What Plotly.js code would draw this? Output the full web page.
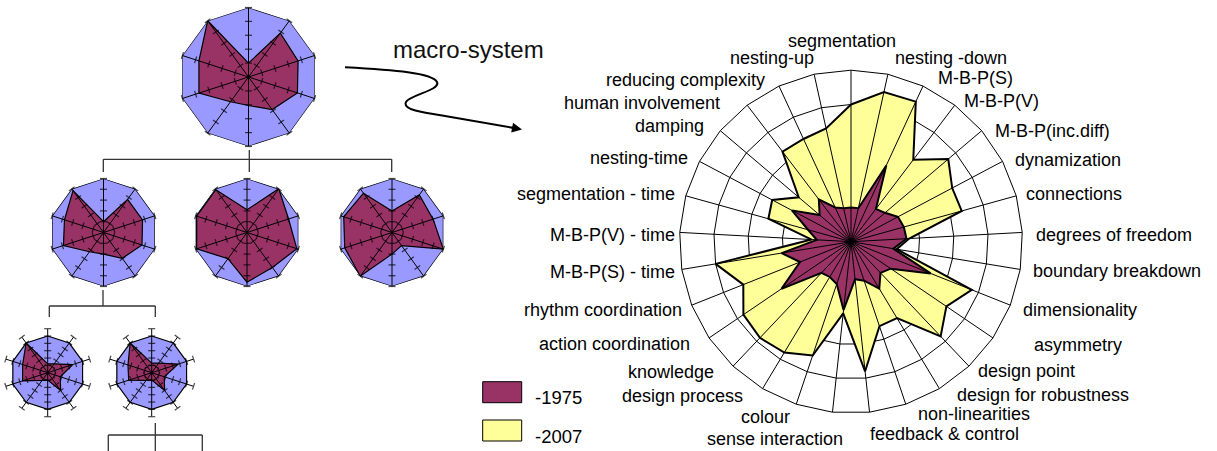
<!DOCTYPE html>
<html><head><meta charset="utf-8">
<script src="https://cdn.plot.ly/plotly-3.0.1.min.js"></script>
<style>html,body{margin:0;padding:0;background:#fff}#chart{width:1217px;height:451px}</style>
</head><body><div id="chart"></div>
<script>
// ---- main radar data ----
const categories = ['segmentation','nesting -down','M-B-P(S)','M-B-P(V)','M-B-P(inc.diff)','dynamization','connections','degrees of freedom','boundary breakdown','dimensionality','asymmetry','design point','design for robustness','non-linearities','feedback & control','sense interaction','colour','design process','knowledge','action coordination','rhythm coordination','M-B-P(S) - time','M-B-P(V) - time','segmentation - time','nesting-time','damping','human involvement','reducing complexity','nesting-up'];
const series1975 = [1.0,1.0,2.45,1.2,1.3,1.55,1.6,1.62,1.25,2.5,1.4,1.25,1.6,1.2,1.1,2.0,1.3,1.2,1.25,2.45,1.6,2.05,1.0,1.3,1.95,1.2,1.55,1.1,1.0];
const series2007 = [4.0,4.47,4.5,3.0,3.72,3.34,3.35,1.7,1.35,3.79,3.36,3.8,2.6,2.6,3.8,2.1,3.5,3.77,3.86,3.79,3.38,4.0,1.15,2.5,2.6,2.0,3.3,3.3,3.38];
const seriesNames = ['-1975','-2007'];
const radialMax = 5;

// ---- small radar data (tree) ----
const miniCategories = ['k1','k2','k3','k4','k5','k6','k7','k8','k9','k10'];
const miniMax = 5;
const miniTop  = [1.0,3.9,3.75,3.7,2.9,2.05,2.2,3.75,3.75,5.0];
const miniR2a  = [1.0,3.8,3.8,3.75,2.95,2.0,2.2,3.9,3.8,4.8];
const miniR2b  = [2.1,5.0,4.05,4.85,4.0,4.6,3.0,4.9,4.9,4.9];
const miniR2c  = [2.0,4.3,4.0,5.0,1.5,2.0,5.0,4.6,4.7,4.5];
const miniR3a  = [1.2,1.5,3.6,1.8,3.0,1.0,1.3,3.6,3.6,5.0];
const miniR3b  = [1.3,1.6,3.8,1.8,3.0,1.0,1.3,3.3,3.4,5.0];
const titleText = 'macro-system';

// ---- layout: category label placement (pixels) ----
const labelX = [842,893,936,962,993,1013,1024,1034,1031,1021,1032,976,955,916,868,845,792,745,716,692,684,677,677,677,690,706,722,767,816];
const labelY = [41,58,78,101,131,160,194,235,271,310,345,371,395,414,434,439,417,396,372,344,310,272,235,194,158,126,103,80,58];

const W = 1217, H = 451;
const FONT = 'Liberation Sans, Arial, Helvetica, sans-serif';
const MAROON = '#993366', YELLOW = '#FFFF99', BLUE = '#9999FF';
const px = x => x / W, py = y => 1 - y / H;
const dom = (cx, cy, R) => ({x: [(cx - R) / W, (cx + R) / W], y: [(H - cy - R) / H, (H - cy + R) / H]});
const closed = a => a.concat([a[0]]);

const traces = [];
const layout = {
  width: W, height: H, margin: {l: 0, r: 0, t: 0, b: 0},
  paper_bgcolor: '#fff', showlegend: false, hovermode: false,
  font: {family: FONT, color: '#000'},
  shapes: [], annotations: []
};

// main radar
traces.push({type: 'scatterpolar', subplot: 'polar', mode: 'lines', r: closed(series2007), theta: closed(categories),
  fill: 'toself', fillcolor: YELLOW, line: {color: '#000', width: 2}, name: seriesNames[1]});
traces.push({type: 'scatterpolar', subplot: 'polar', mode: 'lines', r: closed(series1975), theta: closed(categories),
  fill: 'toself', fillcolor: MAROON, line: {color: '#000', width: 2}, name: seriesNames[0]});
(function () {
  const r = [], t = [];
  categories.forEach(c => { r.push(0, radialMax, null); t.push(c, c, c); });
  traces.push({type: 'scatterpolar', subplot: 'polar', mode: 'lines', r: r, theta: t, line: {color: '#000', width: 1}});
})();
layout.polar = {
  domain: dom(851, 241.7, 171.5), bgcolor: '#fff', gridshape: 'linear',
  angularaxis: {type: 'category', categoryarray: categories, direction: 'clockwise', rotation: 90,
    showgrid: false, showline: true, linecolor: '#000', linewidth: 1, ticks: '', showticklabels: false},
  radialaxis: {range: [0, radialMax], dtick: 1, showticklabels: false, ticks: '', showline: false,
    showgrid: true, gridcolor: '#000', gridwidth: 1}
};
categories.forEach((c, i) => {
  const anchor = i === 0 ? 'center' : (i < 15 ? 'left' : 'right');
  layout.annotations.push({xref: 'paper', yref: 'paper', x: px(labelX[i]), y: py(labelY[i]),
    xanchor: anchor, yanchor: 'middle', text: c, showarrow: false,
    font: {size: 18, family: FONT, color: '#000'}});
});

// mini radars
const minis = [
  {vals: miniTop, cx: 248.5, cy: 77, R: 69.5, ext: 5},
  {vals: miniR2a, cx: 103.5, cy: 232.5, R: 54, ext: 5},
  {vals: miniR2b, cx: 247, cy: 232.5, R: 54, ext: 5},
  {vals: miniR2c, cx: 392, cy: 232.5, R: 54, ext: 5},
  {vals: miniR3a, cx: 47.7, cy: 372.7, R: 44, ext: 6},
  {vals: miniR3b, cx: 151.7, cy: 372.7, R: 44, ext: 6}
];
minis.forEach((m, k) => {
  const sp = 'polar' + (k + 2);
  traces.push({type: 'scatterpolar', subplot: sp, mode: 'lines', r: closed(miniCategories.map(() => miniMax)),
    theta: closed(miniCategories), fill: 'toself', fillcolor: BLUE, line: {color: '#000', width: 1.2}});
  traces.push({type: 'scatterpolar', subplot: sp, mode: 'lines', r: closed(m.vals), theta: closed(miniCategories),
    fill: 'toself', fillcolor: MAROON, line: {color: '#000', width: 1.2}});
  const r = [], t = [], ang = [], sz = [];
  miniCategories.forEach((c, i) => {
    for (let v = 0; v <= m.ext; v++) { r.push(v); t.push(c); ang.push(i * 360 / miniCategories.length); sz.push(v === 0 ? 0 : 5); }
    r.push(null); t.push(c); ang.push(0); sz.push(0);
  });
  traces.push({type: 'scatterpolar', subplot: sp, mode: 'lines+markers', r: r, theta: t,
    line: {color: '#000', width: 1},
    marker: {symbol: 'line-ew', size: sz, angle: ang, color: '#000', line: {color: '#000', width: 1.2}}});
  layout[sp] = {
    domain: dom(m.cx, m.cy, m.R), bgcolor: 'rgba(0,0,0,0)', gridshape: 'linear',
    angularaxis: {type: 'category', categoryarray: miniCategories, direction: 'clockwise', rotation: 90,
      showgrid: false, showline: false, showticklabels: false, ticks: ''},
    radialaxis: {range: [0, m.ext], visible: false}
  };
});

// tree connector lines
const lineSegs = [
  [249.3, 150, 249.3, 172], [103.3, 159.3, 391.7, 159.3], [103.3, 159.3, 103.3, 172], [391.7, 159.3, 391.7, 172],
  [103, 290, 103, 306], [49.3, 306, 155.3, 306], [49.3, 306, 49.3, 317], [155.3, 306, 155.3, 317],
  [155.3, 423, 155.3, 451], [108.3, 435, 202.3, 435], [108.3, 435, 108.3, 451], [202.3, 435, 202.3, 451]
];
lineSegs.forEach(s => layout.shapes.push({type: 'line', xref: 'paper', yref: 'paper',
  x0: px(s[0]), y0: py(s[1]), x1: px(s[2]), y1: py(s[3]), line: {color: '#333', width: 1.3}}));

// squiggly arrow
const P = (x, y) => px(x).toFixed(5) + ',' + py(y).toFixed(5);
layout.shapes.push({type: 'path', xref: 'paper', yref: 'paper', line: {color: '#000', width: 2},
  path: 'M' + P(345, 67.3) + ' C' + P(395, 70) + ' ' + P(432, 73) + ' ' + P(437, 82) +
        ' C' + P(441, 90) + ' ' + P(410, 95) + ' ' + P(406, 102) +
        ' C' + P(402, 110) + ' ' + P(425, 113) + ' ' + P(445, 116) + ' L' + P(514, 128)});
layout.annotations.push({xref: 'paper', yref: 'paper', x: px(522), y: py(129.4), ax: -12, ay: -2.2, text: '',
  showarrow: true, arrowhead: 2, arrowsize: 1, arrowwidth: 2, arrowcolor: '#000'});
layout.annotations.push({xref: 'paper', yref: 'paper', x: px(468), y: py(50), xanchor: 'center', yanchor: 'middle',
  text: titleText, showarrow: false, font: {size: 24, family: FONT, color: '#111'}});

// legend
const legendColors = [MAROON, YELLOW];
const legendY = [381.7, 420];
seriesNames.forEach((n, i) => {
  layout.shapes.push({type: 'rect', xref: 'paper', yref: 'paper', x0: px(482.7), x1: px(521.7),
    y0: py(legendY[i]), y1: py(legendY[i] + 21), fillcolor: legendColors[i], line: {color: '#000', width: 1}});
  layout.annotations.push({xref: 'paper', yref: 'paper', x: px(533), y: py(legendY[i] + 16), xanchor: 'left', yanchor: 'middle',
    text: n, showarrow: false, font: {size: 18.5, family: FONT, color: '#000'}});
});

Plotly.newPlot('chart', traces, layout, {staticPlot: true, displayModeBar: false});
</script></body></html>
